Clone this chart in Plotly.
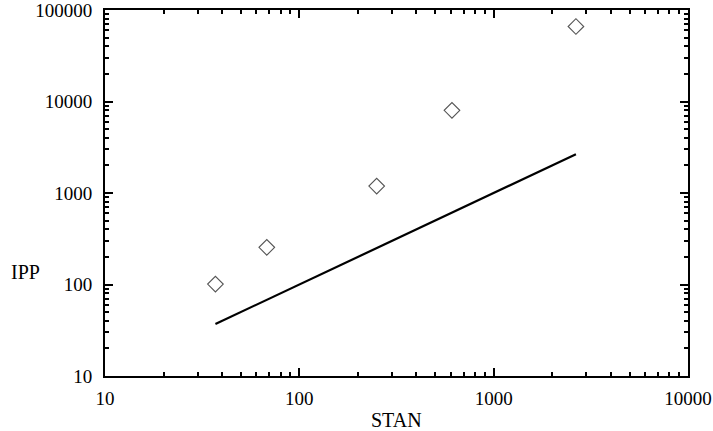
import plotly.graph_objects as go

stan = [37, 68, 250, 610, 2650]
ipp = [101, 255, 1190, 8000, 66000]
line_x = [37, 2650]
line_y = [37, 2650]

x_ticks = [10, 100, 1000, 10000]
y_ticks = [10, 100, 1000, 10000, 100000]

font = "Liberation Serif"


def minor_vals(decades):
    return [m * d for d in decades[:-1] for m in range(2, 10)]


fig = go.Figure()
fig.add_trace(go.Scatter(x=line_x, y=line_y, mode="lines",
                         line=dict(color="black", width=2.2), showlegend=False))
fig.add_trace(go.Scatter(x=stan, y=ipp, mode="markers",
                         marker=dict(symbol="diamond-open", size=12,
                                     color="#555555", line=dict(width=1.1)),
                         showlegend=False))

axis_common = dict(
    type="log", showgrid=False, zeroline=False, automargin=False,
    showline=True, linecolor="black", linewidth=2, mirror="allticks",
    ticks="inside", ticklen=8, tickwidth=2, tickcolor="black",
    ticklabeloverflow="allow",
)

fig.update_xaxes(range=[1, 4], tickvals=x_ticks, ticktext=[str(v) for v in x_ticks],
                 ticklabelstandoff=4,
                 tickfont=dict(family=font, size=19, color="black"),
                 minor=dict(ticks="inside", ticklen=4, tickwidth=1.5, tickcolor="black",
                            showgrid=False, tickmode="array", tickvals=minor_vals(x_ticks)),
                 **axis_common)
fig.update_yaxes(range=[1, 5], tickvals=y_ticks, ticktext=[str(v) for v in y_ticks],
                 ticklabelstandoff=7,
                 tickfont=dict(family=font, size=19, color="black"),
                 minor=dict(ticks="inside", ticklen=4, tickwidth=1.5, tickcolor="black",
                            showgrid=False, tickmode="array", tickvals=minor_vals(y_ticks)),
                 **axis_common)

fig.add_annotation(text="STAN", xref="paper", yref="paper", x=0.5, y=-0.119,
                   yanchor="middle", showarrow=False, font=dict(family=font, size=20, color="black"))
fig.add_annotation(text="IPP", xref="paper", yref="paper", x=-0.165, y=0.283,
                   xanchor="left", yanchor="middle", showarrow=False,
                   font=dict(family=font, size=20, color="black"))

fig.update_layout(width=713, height=431, margin=dict(l=105, r=25, t=10, b=55),
                  plot_bgcolor="white", paper_bgcolor="white")
fig.write_html("out.html")
